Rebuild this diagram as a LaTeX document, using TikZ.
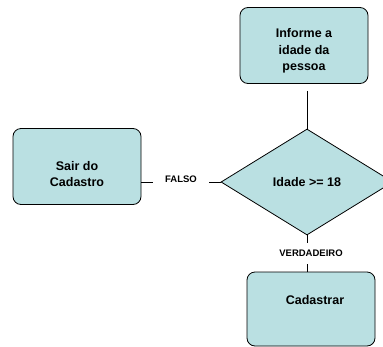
\documentclass[tikz,border=0pt]{standalone}
\usepackage{fontspec}
\setmainfont{Liberation Sans}
\usetikzlibrary{shapes.geometric}
\definecolor{caixa}{RGB}{186,224,226}

\begin{document}
\begin{tikzpicture}
[x=1pt,y=-1pt,
every node/.style={font=\bfseries\fontsize{12.5}{16.5}\selectfont,align=center},
bloco/.style={draw,fill=caixa,rounded corners=8pt,minimum width=128pt,minimum height=76pt,line width=0.8pt},
decisao/.style={draw,fill=caixa,diamond,shape aspect=1.566,minimum width=172pt,minimum height=106pt,inner sep=0pt,line width=0.8pt},
rotulo/.style={font=\bfseries\fontsize{9.5}{11}\selectfont,fill=white,inner xsep=12pt,inner ysep=7pt}]

\useasboundingbox (0,0) rectangle (383,346);
\clip (0,0) rectangle (383,346);

\node[bloco] (informe) at (304,45.5) {};
\node (informe-txt) at (304,51) {Informe a\\idade da\\pessoa};
\node[decisao] (idade) at (307,182) {Idade >= 18};
\node[bloco] (sair) at (77,166.5) {};
\node (sair-txt) at (77,174) {Sair do\\Cadastro};
\node[bloco,minimum height=74pt] (cad) at (311,309) {};
\node (cad-txt) at (315,300) {Cadastrar};

\draw[line width=0.8pt] ([yshift=-7pt]idade.north |- informe.south) -- (idade.north);
\draw[line width=0.8pt] (idade.west) -- node[rotulo,yshift=3pt]{FALSO} (sair.east |- idade.west);
\draw[line width=0.8pt] (idade.south) -- node[rotulo,xshift=4pt]{VERDADEIRO} (idade.south |- cad.north);
\end{tikzpicture}
\end{document}
